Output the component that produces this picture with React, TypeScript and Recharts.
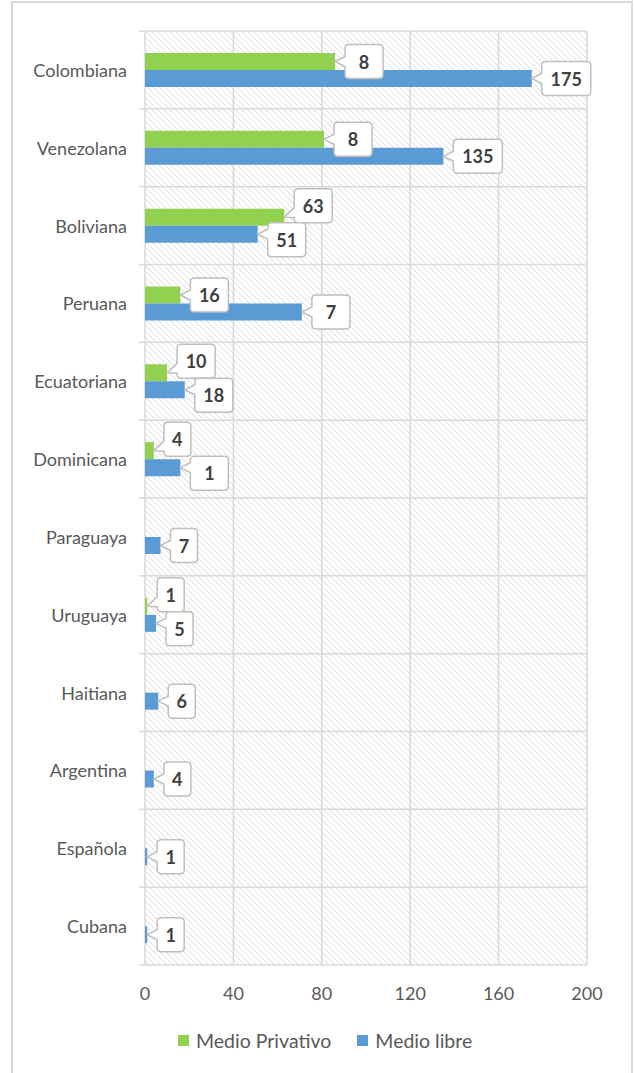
import React from 'react';
import { BarChart, Bar, XAxis, YAxis, CartesianGrid, LabelList } from 'recharts';

const categories = [
  'Colombiana', 'Venezolana', 'Boliviana', 'Peruana', 'Ecuatoriana', 'Dominicana',
  'Paraguaya', 'Uruguaya', 'Haitiana', 'Argentina', 'Española', 'Cubana',
];
const privativo = [86, 81, 63, 16, 10, 4, 0, 1, 0, 0, 0, 0];
const libre = [175, 135, 51, 71, 18, 16, 7, 5, 6, 4, 1, 1];
// texto que muestran las etiquetas (algunas aparecen recortadas en el original)
const privativoLabels = ['8', '8', '63', '16', '10', '4', '', '1', '', '', '', ''];
const libreLabels = ['175', '135', '51', '7', '18', '1', '7', '5', '6', '4', '1', '1'];
const xTicks = [0, 40, 80, 120, 160, 200];

const W = 634;
const H = 1073;
const PLOT = { left: 145, top: 31, right: 587, bottom: 965 };
const BAND = (PLOT.bottom - PLOT.top) / categories.length;
const PX = (PLOT.right - PLOT.left) / 200;
const FONT = 'Lato, "Open Sans", sans-serif';
const GREEN = '#92d050';
const BLUE = '#5b9bd5';
const GRID = '#d9d9d9';

const data = categories.map((name, i) => ({ name, privativo: privativo[i], libre: libre[i] }));

const boxW = (v: number) => 16 + 11 * String(v).length;
const BOX_H = 34;

function calloutPath(bx: number, by: number, bw: number, bh: number, tx: number, ty: number) {
  const r = 4;
  const c = Math.max(by + r + 6, Math.min(by + bh - r - 6, ty));
  const b1 = c - 5;
  const b2 = c + 5;
  return [
    `M${bx + r},${by}`,
    `H${bx + bw - r}`,
    `Q${bx + bw},${by} ${bx + bw},${by + r}`,
    `V${by + bh - r}`,
    `Q${bx + bw},${by + bh} ${bx + bw - r},${by + bh}`,
    `H${bx + r}`,
    `Q${bx},${by + bh} ${bx},${by + bh - r}`,
    `V${b2}`,
    `L${tx},${ty}`,
    `L${bx},${b1}`,
    `V${by + r}`,
    `Q${bx},${by} ${bx + r},${by}`,
    'Z',
  ].join(' ');
}

function makeLabel(series: 'privativo' | 'libre') {
  return (props: any) => {
    const { x, y, width, height, value } = props;
    // value = nombre de la categoría (LabelList dataKey="name")
    const index = categories.indexOf(value);
    if (index < 0) return null;
    const own = series === 'privativo' ? privativo : libre;
    const other = series === 'privativo' ? libre : privativo;
    const texts = series === 'privativo' ? privativoLabels : libreLabels;
    const otherTexts = series === 'privativo' ? libreLabels : privativoLabels;
    const text = texts[index];
    if (!text) return null;
    const endX = x + width;
    const cy = y + height / 2;
    const bw = boxW(own[index]);
    const bx = endX + 10;
    let boxCy = cy;
    if (otherTexts[index]) {
      const ox = x + other[index] * PX + 10;
      const ow = boxW(other[index]);
      const overlap = bx < ox + ow && ox < bx + bw;
      if (overlap) {
        const mid = series === 'privativo' ? y + height : y;
        boxCy = series === 'privativo' ? mid - 20 : mid + 14;
      }
    }
    const by = boxCy - BOX_H / 2;
    return (
      <g>
        <path d={calloutPath(bx, by, bw, BOX_H, endX, cy)} fill="#fff" stroke="#bfbfbf" strokeWidth={1.5} />
        <text
          x={bx + bw / 2}
          y={boxCy}
          textAnchor="middle"
          dominantBaseline="central"
          fontFamily={FONT}
          fontWeight={700}
          fontSize={18}
          fill="#404040"
        >
          {text}
        </text>
      </g>
    );
  };
}

const CategoryTick = (props: any) => {
  const { x, y, payload, index } = props;
  return (
    <g>
      <line x1={x + 12} x2={x + 18} y1={y - BAND / 2} y2={y - BAND / 2} stroke={GRID} strokeWidth={1.5} />
      {index === categories.length - 1 && (
        <line x1={x + 12} x2={x + 18} y1={y + BAND / 2} y2={y + BAND / 2} stroke={GRID} strokeWidth={1.5} />
      )}
      <text x={x} y={y} textAnchor="end" dominantBaseline="central" fontFamily={FONT} fontSize={18} fill="#595959">
        {payload.value}
      </text>
    </g>
  );
};

const legendItems = [
  { name: 'Medio Privativo', color: GREEN },
  { name: 'Medio libre', color: BLUE },
];

export default function App() {
  return (
    <div style={{ position: 'absolute', left: 0, top: 0, width: W, height: H, overflow: 'hidden', background: '#fff' }}>
      <BarChart
        width={W}
        height={H}
        data={data}
        layout="vertical"
        margin={{ top: PLOT.top, right: W - PLOT.right, bottom: 0, left: 0 }}
        barGap={0}
        barSize={17}
      >
        <defs>
          <pattern id="hatch" width="6" height="6" patternUnits="userSpaceOnUse">
            <rect width="6" height="6" fill="#fff" />
            <path d="M0,0 L6,6 M-1,5 L1,7 M5,-1 L7,1" stroke="#dcdcdc" strokeWidth={1} />
          </pattern>
        </defs>
        <CartesianGrid
          stroke={GRID}
          strokeWidth={1.5}
          fill="url(#hatch)"
          fillOpacity={1}
          horizontalCoordinatesGenerator={({ offset }: any) =>
            Array.from({ length: categories.length + 1 }, (_, i) => offset.top + (i * offset.height) / categories.length)
          }
        />
        <XAxis
          type="number"
          domain={[0, 200]}
          ticks={xTicks}
          interval={0}
          height={H - PLOT.bottom}
          axisLine={false}
          tickLine={false}
          tickSize={0}
          tickMargin={22}
          tick={{ fontFamily: FONT, fontSize: 18, fill: '#595959' }}
        />
        <YAxis
          type="category"
          dataKey="name"
          width={PLOT.left}
          axisLine={false}
          tickLine={false}
          tickSize={0}
          tickMargin={18}
          interval={0}
          tick={<CategoryTick />}
        />
        <Bar dataKey="privativo" fill={GREEN} isAnimationActive={false}>
          <LabelList dataKey="name" content={makeLabel('privativo')} />
        </Bar>
        <Bar dataKey="libre" fill={BLUE} isAnimationActive={false}>
          <LabelList dataKey="name" content={makeLabel('libre')} />
        </Bar>
      </BarChart>
      <div
        style={{
          position: 'absolute',
          left: 178,
          top: 1029,
          display: 'flex',
          alignItems: 'center',
          fontFamily: FONT,
          fontSize: 19.5,
          color: '#595959',
        }}
      >
        {legendItems.map((it, i) => (
          <div key={it.name} style={{ display: 'flex', alignItems: 'center', marginRight: i === 0 ? 26 : 0 }}>
            <span style={{ width: 11, height: 11, background: it.color, marginRight: 7, display: 'inline-block' }} />
            <span>{it.name}</span>
          </div>
        ))}
      </div>
      <div
        style={{
          position: 'absolute',
          left: 11,
          top: 1,
          width: 622,
          height: 1100,
          boxSizing: 'border-box',
          border: `2px solid ${GRID}`,
          pointerEvents: 'none',
        }}
      />
    </div>
  );
}
